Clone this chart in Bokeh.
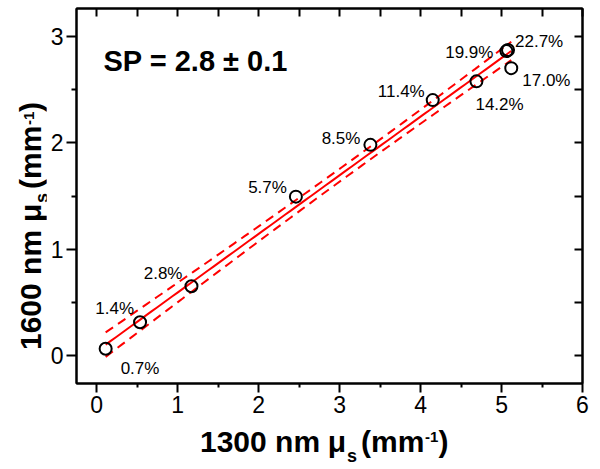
import numpy as np
from bokeh.plotting import figure
from bokeh.models import (ColumnDataSource, LinearAxis, Range1d, Label, Div,
                          FixedTicker, CustomJSTickFormatter)
from bokeh.layouts import row, column
from bokeh.embed import file_html
from bokeh.resources import INLINE
from bokeh.core.properties import value

# ---------------- data ----------------
conc_labels = ["0.7%", "1.4%", "2.8%", "5.7%", "8.5%", "11.4%", "14.2%", "17.0%", "19.9%", "22.7%"]
mus_1300 = [0.11, 0.535, 1.17, 2.46, 3.38, 4.15, 4.69, 5.12, 5.06, 5.08]
mus_1600 = [0.066, 0.315, 0.653, 1.494, 1.98, 2.40, 2.576, 2.70, 2.86, 2.87]
x_ticks = [0, 1, 2, 3, 4, 5, 6]
y_ticks = [0, 1, 2, 3]
sp_text = "SP = 2.8 \u00b1 0.1"
x_title = ["1300 nm", "\u03bc", "s", "(mm", "-1", ")"]
y_title = ["1600 nm", "\u03bc", "s", "(mm", "-1", ")"]
t95 = 2.306  # Student t, 95%, 8 dof

# label placement (pixel offsets from each point)
label_dx = [15, -6, -9, -9, -10, -8, -1, 11, -13, 7]
label_dy = [20, -13.4, -12.4, -8.7, -6.7, -9, 23.6, 12, 1.7, -8.3]
label_align = ["left", "right", "right", "right", "right", "right", "left", "left", "right", "left"]

FONT = "Liberation Sans"

# ---------------- linear fit with 95% confidence band ----------------
xa = np.array(mus_1300)
ya = np.array(mus_1600)
n = len(xa)
slope, intercept = np.polyfit(xa, ya, 1)
resid = ya - (slope * xa + intercept)
s = np.sqrt(np.sum(resid ** 2) / (n - 2))
xf = np.linspace(xa.min(), xa.max(), 80)
yf = slope * xf + intercept
se = s * np.sqrt(1.0 / n + (xf - xa.mean()) ** 2 / np.sum((xa - xa.mean()) ** 2))

# ---------------- figure ----------------
p = figure(width=554, height=427, x_range=Range1d(-0.25, 6.0), y_range=Range1d(-0.26, 3.26),
           output_backend="svg", toolbar_location=None, margin=0,
           min_border_left=30, min_border_right=18, min_border_top=8, min_border_bottom=44)
p.xgrid.visible = False
p.ygrid.visible = False
p.outline_line_color = "black"
p.outline_line_width = 2
p.background_fill_color = "white"
p.border_fill_color = "white"

x_minor = [t + 0.5 for t in x_ticks[:-1]]
y_minor = [t + 0.5 for t in y_ticks[:-1]]

bx = p.xaxis[0]
bx.ticker = FixedTicker(ticks=x_ticks, minor_ticks=x_minor)
by = p.yaxis[0]
by.ticker = FixedTicker(ticks=y_ticks, minor_ticks=y_minor)

for ax, mo, mi, so in ((bx, 9, 4, 3), (by, 10, 5, 3)):
    ax.axis_line_width = 2
    ax.major_tick_line_width = 2
    ax.minor_tick_line_width = 2
    ax.major_tick_out = mo
    ax.major_tick_in = 0
    ax.minor_tick_out = mi
    ax.minor_tick_in = 0
    ax.major_label_text_font = FONT
    ax.major_label_text_font_size = "23px"
    ax.major_label_text_color = "black"
    ax.major_label_standoff = so

top = LinearAxis(ticker=FixedTicker(ticks=x_ticks, minor_ticks=x_minor))
right = LinearAxis(ticker=FixedTicker(ticks=y_ticks, minor_ticks=y_minor))
for ax in (top, right):
    ax.formatter = CustomJSTickFormatter(code="return ''")
    ax.major_label_text_font_size = "0px"
    ax.major_label_standoff = 0
    ax.axis_line_width = 2
    ax.major_tick_line_width = 2
    ax.minor_tick_line_width = 2
    ax.major_tick_in = 8
    ax.major_tick_out = 0
    ax.minor_tick_in = 8
    ax.minor_tick_out = 0
p.add_layout(top, "above")
p.add_layout(right, "right")

# fit and confidence band
p.line(xf, yf, line_color="#ff0000", line_width=2)
p.line(xf, yf + t95 * se, line_color="#ff0000", line_width=2, line_dash="9 6")
p.line(xf, yf - t95 * se, line_color="#ff0000", line_width=2, line_dash="9 6")

# points
p.scatter(mus_1300, mus_1600, marker="circle", size=12, fill_color=None,
          line_color="black", line_width=2)

# concentration labels
for al in ("left", "right"):
    idx = [i for i, a in enumerate(label_align) if a == al]
    src = ColumnDataSource(dict(
        x=[mus_1300[i] for i in idx], y=[mus_1600[i] for i in idx],
        t=[conc_labels[i] for i in idx],
        dx=[label_dx[i] for i in idx], dy=[label_dy[i] for i in idx]))
    p.text(x="x", y="y", text="t", x_offset="dx", y_offset="dy", source=src,
           text_font=value(FONT), text_font_size="17px", text_color="black",
           text_align=al, text_baseline="alphabetic")

# SP annotation
p.add_layout(Label(x=27, y=323, x_units="screen", y_units="screen", text=sp_text,
                   text_font=FONT, text_font_size="29px", text_font_style="bold",
                   text_color="black", text_align="left", text_baseline="alphabetic"))

# ---------------- axis titles (HTML pieces: main, subscript, superscript) ----------------
def span(txt, left, top, size, rotate=False):
    rot = "transform-origin:0 0;transform:rotate(-90deg);" if rotate else ""
    return (f'<span style="position:absolute;left:{left:.1f}px;top:{top:.1f}px;white-space:nowrap;'
            f"font-family:'{FONT}';font-weight:bold;font-size:{size}px;line-height:{size}px;"
            f'color:black;{rot}">{txt}</span>')

def bl(size):  # baseline offset from top of a line box with line-height == font-size
    return 0.8465 * size

# piece starts along the title (px from title start), font sizes, baseline shifts
starts = [0, 127.7, 147, 161, 225, 238.5]
sizes = [30, 30, 18, 30, 15, 30]
shifts = [0, 0, 9.7, 0, -10.3, 0]

# x title: start at x=154 in its div, main baseline at y=25
x_html = ('<div style="position:relative;width:554px;height:42px;">'
          + "".join(span(t, 154 + st, 25 + sh - bl(sz), sz)
                    for t, st, sz, sh in zip(x_title, starts, sizes, shifts))
          + "</div>")

# y title: reads upward from y=350, main baseline at x=41
y_html = ('<div style="position:relative;width:46px;height:427px;">'
          + "".join(span(t, 41 + sh * 0.7 - bl(sz), 350 - st, sz, True)
                    for t, st, sz, sh in zip(y_title, starts, sizes, shifts))
          + "</div>")

xdiv = Div(text=x_html, width=554, height=42, margin=0)
ydiv = Div(text=y_html, width=46, height=427, margin=0)

layout = row(ydiv, column(p, xdiv, margin=0), margin=0)
open("out.html", "w").write(file_html(layout, INLINE))
